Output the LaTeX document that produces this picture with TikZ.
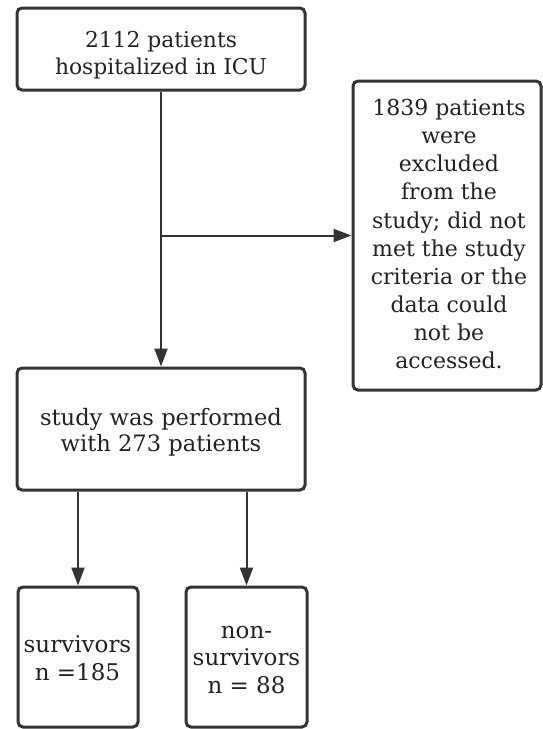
\documentclass[tikz,border=0pt]{standalone}
\usepackage{fontspec}
\setmainfont{DejaVu Serif}
\usetikzlibrary{arrows.meta}
\definecolor{ink}{HTML}{333333}
\definecolor{txtc}{HTML}{222222}
\begin{document}
\begin{tikzpicture}[x=1pt,y=-1pt,
  box/.style={draw=ink, line width=3pt, rounded corners=5pt, inner sep=0pt},
  txt/.style={align=center, text=txtc, inner sep=0pt, anchor=base},
  conn/.style={draw=ink, line width=2pt, -{Triangle[length=18pt,width=13pt]}}]
\useasboundingbox (0,0) rectangle (543,729);
% boxes
\node[box, minimum width=288pt, minimum height=82pt] (b1) at (161,49) {};
\node[box, minimum width=188pt, minimum height=309pt] (b3) at (447,235.5) {};
\node[box, minimum width=288pt, minimum height=122pt] (b2) at (161,429) {};
\node[box, minimum width=120pt, minimum height=140pt] (b4) at (78,657) {};
\node[box, minimum width=121pt, minimum height=140pt] (b5) at (246.5,657) {};
% texts (anchored at the baseline of their last line)
\node[txt, font=\fontsize{21.8}{27}\selectfont] (t1) at (161,74) {2112 patients\\hospitalized in ICU};
\node[txt, font=\fontsize{22}{28.1}\selectfont] (t3) at (449,368.5) {1839 patients\\were\\excluded\\from the\\study; did not\\met the study\\criteria or the\\data could\\not be\\accessed.};
\node[txt, font=\fontsize{22.6}{26}\selectfont] (t2) at (161,451) {study was performed\\with 273 patients};
\node[txt, font=\fontsize{23}{28}\selectfont] (t4) at (77.5,680) {survivors\\n =185};
\node[txt, font=\fontsize{23}{27.5}\selectfont] (t5) at (246.5,693) {non-\\survivors\\n = 88};
% connectors
\coordinate (br) at (b1.south |- b3.west);
\draw[conn] (b1.south) -- (b2.north);
\draw[conn] (br) -- (b3.west);
\draw[conn] (b2.south -| b4.north) -- (b4.north);
\draw[conn] (b2.south -| b5.north) -- (b5.north);
\end{tikzpicture}
\end{document}
